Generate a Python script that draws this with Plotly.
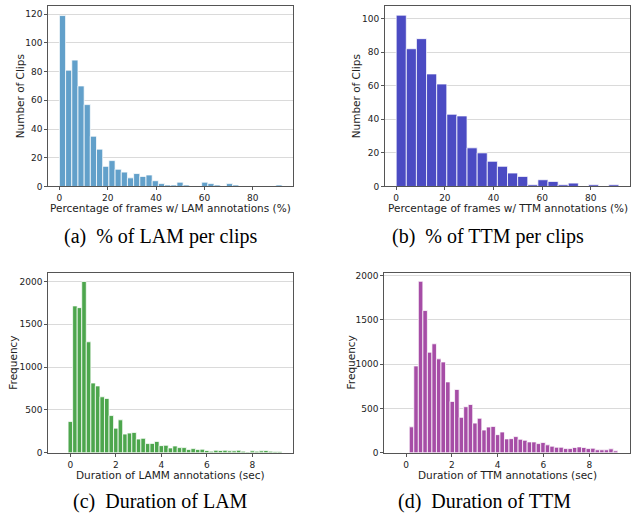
import plotly.graph_objects as go

# ---------------- data ----------------
# (a) % of LAM per clip: 36 bins starting at 0, width 2.56
lam_pct_start = 0.0
lam_pct_width = 2.56
lam_pct_counts = [119, 81, 88, 70, 57, 35, 26, 14, 18, 12, 10, 6, 9, 7, 8, 4, 2, 1,
                  1, 3, 1, 0, 0, 3, 2, 1, 0, 2, 1, 0, 0, 0, 0, 0, 0, 1]

# (b) % of TTM per clip: 22 bins starting at 0, width 4.16
ttm_pct_start = 0.0
ttm_pct_width = 4.16
ttm_pct_counts = [102, 82, 88, 67, 61, 43, 42, 23, 20, 15, 12, 8, 6, 1, 4, 3, 1, 2,
                  0, 1, 0, 1]

# (c) Duration of LAMM annotations (sec): 47 bins from -0.1, width 0.2
lam_dur_start = -0.1
lam_dur_width = 0.2
lam_dur_counts = [365, 1715, 1695, 2000, 1296, 815, 781, 654, 635, 435, 288, 385, 219,
                  231, 238, 161, 169, 108, 110, 133, 84, 88, 57, 80, 61, 61, 38, 49,
                  38, 42, 27, 19, 30, 27, 30, 23, 23, 30, 19, 11, 23, 19, 23, 27, 19,
                  15, 15]

# (d) Duration of TTM annotations (sec): 46 bins from 0.14, width 0.198
ttm_dur_start = 0.14
ttm_dur_width = 0.198
ttm_dur_counts = [293, 980, 1935, 1605, 1135, 1230, 1060, 1025, 800, 580, 715, 400, 520,
                  545, 335, 390, 257, 291, 298, 205, 235, 157, 160, 183, 153, 142, 123,
                  123, 104, 116, 90, 75, 63, 63, 48, 48, 60, 67, 60, 48, 52, 34, 34,
                  34, 45, 22]

x_titles = ["Percentage of frames w/ LAM annotations (%)",
            "Percentage of frames w/ TTM annotations (%)",
            "Duration of LAMM annotations (sec)",
            "Duration of TTM annotations (sec)"]
y_titles = ["Number of Clips", "Number of Clips", "Frequency", "Frequency"]
captions = ["(a)  % of LAM per clips", "(b)  % of TTM per clips",
            "(c)  Duration of LAM", "(d)  Duration of TTM"]

# ---------------- figure ----------------
W, H = 635, 518
colors = ["#62A0CA", "#4B4BC3", "#4DA64D", "#A64DA6"]
panels = [
    (lam_pct_start, lam_pct_width, lam_pct_counts),
    (ttm_pct_start, ttm_pct_width, ttm_pct_counts),
    (lam_dur_start, lam_dur_width, lam_dur_counts),
    (ttm_dur_start, ttm_dur_width, ttm_dur_counts),
]
# plot areas in window pixels: (left, right, top, bottom)
boxes = [(48.3, 293.3, 4.3, 187.0), (385.0, 630.0, 4.3, 187.0),
         (48.3, 293.3, 274.3, 457.0), (384.3, 630.0, 274.3, 457.0)]
xranges = [[-4.6, 96.8], [-4.6, 96.1], [-0.97, 9.80], [-0.95, 9.78]]
yranges = [[0, 125.5], [0, 107.3], [0, 2104], [0, 2033]]
xticks = [[0, 20, 40, 60, 80], [0, 20, 40, 60, 80], [0, 2, 4, 6, 8], [0, 2, 4, 6, 8]]
yticks = [[0, 20, 40, 60, 80, 100, 120], [0, 20, 40, 60, 80, 100],
          [0, 500, 1000, 1500, 2000], [0, 500, 1000, 1500, 2000]]
ytitle_x = [20, 356, 13, 350.7]
xtitle_y = [209, 209, 479, 479]
caption_pos = [(160, 238), (488, 238), (160, 506), (484, 506)]


def px(xp):
    return xp / W


def py(yp):
    return 1 - yp / H


fig = go.Figure()
tick_font = dict(family="DejaVu Sans", size=9, color="#222")
title_font = dict(family="DejaVu Sans", size=10.5, color="#222")

for i, (start, width, counts) in enumerate(panels):
    n = i + 1
    xa = "x" if n == 1 else f"x{n}"
    ya = "y" if n == 1 else f"y{n}"
    centers = [start + width * (k + 0.5) for k in range(len(counts))]
    fig.add_trace(go.Bar(
        x=centers, y=counts, width=width, xaxis=xa, yaxis=ya,
        marker=dict(color=colors[i], line=dict(color="rgba(255,255,255,0.85)", width=0.9)),
        showlegend=False))
    l, r, t, b = boxes[i]
    xkey = "xaxis" if n == 1 else f"xaxis{n}"
    ykey = "yaxis" if n == 1 else f"yaxis{n}"
    fig.layout[xkey] = dict(
        domain=[px(l), px(r)], anchor=ya, range=xranges[i], tickvals=xticks[i],
        showgrid=False, zeroline=False, showline=True, mirror=True,
        linecolor="#555", linewidth=1, ticks="outside", ticklen=3, tickcolor="#555",
        tickfont=tick_font)
    fig.layout[ykey] = dict(
        domain=[py(b), py(t)], anchor=xa, range=yranges[i], tickvals=yticks[i],
        showgrid=True, gridcolor="#DADADA", gridwidth=1, zeroline=False, showline=True,
        mirror=True, linecolor="#555", linewidth=1, ticks="outside", ticklen=3,
        tickcolor="#555", tickfont=tick_font)
    # axis titles
    fig.add_annotation(text=x_titles[i], x=px((l + r) / 2), y=py(xtitle_y[i]),
                       xref="paper", yref="paper", showarrow=False, font=title_font,
                       xanchor="center", yanchor="middle", borderpad=0)
    fig.add_annotation(text=y_titles[i], x=px(ytitle_x[i]), y=py((t + b) / 2),
                       xref="paper", yref="paper", showarrow=False, font=title_font,
                       textangle=-90, xanchor="center", yanchor="middle", borderpad=0)
    cx, cy = caption_pos[i]
    fig.add_annotation(text=captions[i], x=px(cx), y=py(cy), xref="paper", yref="paper",
                       showarrow=False, xanchor="center", yanchor="middle",
                       font=dict(family="Liberation Serif", size=20, color="#000"))

fig.update_layout(width=W, height=H, margin=dict(l=0, r=0, t=0, b=0),
                  paper_bgcolor="white", plot_bgcolor="white", bargap=0,
                  hovermode=False)
fig.write_html("out.html", config={"displayModeBar": False, "staticPlot": True},
               post_script="document.body.style.margin='0';document.body.style.overflow='hidden';")
